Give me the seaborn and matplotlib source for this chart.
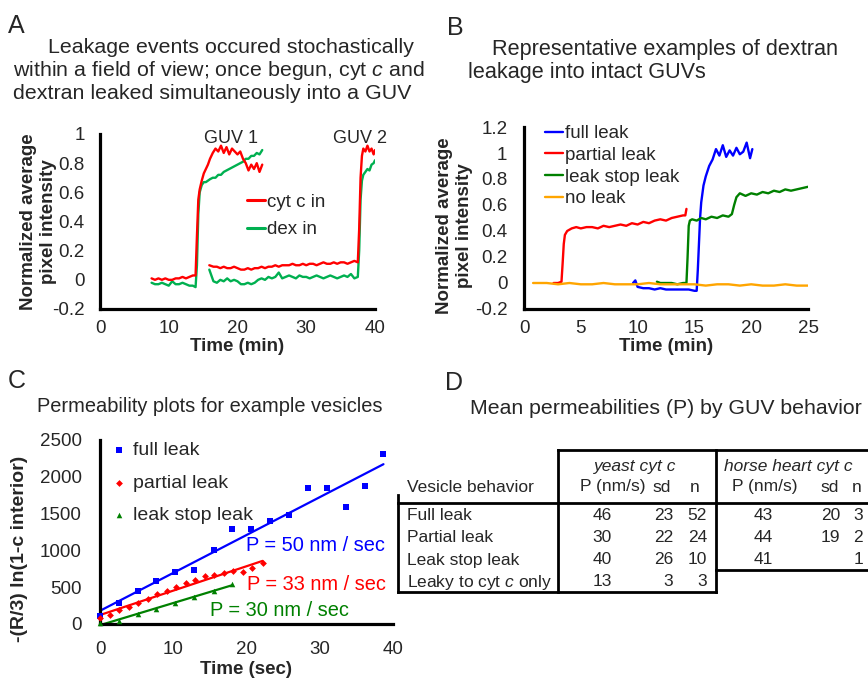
import matplotlib
matplotlib.use("Agg")
import matplotlib.pyplot as plt
import seaborn as sns

sns.set_style("white")
plt.rcParams["font.family"] = ["Liberation Sans", "DejaVu Sans"]
plt.rcParams["mathtext.fontset"] = "custom"
plt.rcParams["mathtext.rm"] = "Liberation Sans"
plt.rcParams["mathtext.it"] = "Liberation Sans:italic"

W, H = 868, 679

# ---------------- panel A: cyt c / dextran traces (min, normalized) ----------
guv1_t = [7.5, 8.0, 8.5, 9.0, 9.5, 10.0, 10.5, 11.0, 11.5, 12.0,
          12.5, 13.0, 13.5, 13.9, 14.1, 14.3, 14.5, 14.8, 15.1, 15.4,
          15.7, 16.0, 16.4, 16.8, 17.2, 17.6, 18.0, 18.4, 18.8, 19.2,
          19.6, 20.0, 20.4, 20.8, 21.2, 21.6, 22.0, 22.4, 22.8, 23.2,
          23.6]
guv1_cyt = [0.01, 0.00, 0.01, 0.00, 0.01, 0.00, 0.00, 0.01, 0.01, 0.02,
            0.01, 0.02, 0.03, 0.03, 0.30, 0.55, 0.62, 0.68, 0.73, 0.76,
            0.79, 0.83, 0.87, 0.90, 0.88, 0.92, 0.87, 0.91, 0.86, 0.90,
            0.88, 0.86, 0.88, 0.83, 0.80, 0.75, 0.79, 0.76, 0.80, 0.74,
            0.79]
guv1_dex = [-0.02, -0.03, -0.03, -0.02, -0.03, -0.04, -0.01, -0.03, -0.03, -0.02,
            -0.03, -0.04, -0.04, -0.05, 0.10, 0.45, 0.60, 0.65, 0.67, 0.67,
            0.68, 0.69, 0.70, 0.70, 0.72, 0.72, 0.74, 0.75, 0.76, 0.77,
            0.78, 0.79, 0.80, 0.81, 0.83, 0.83, 0.85, 0.85, 0.87, 0.86,
            0.89]

guv2_t = [15.9, 16.5, 17.0, 17.5, 18.0, 18.5, 19.0, 19.5, 20.0, 20.5,
          21.0, 21.5, 22.0, 22.5, 23.0, 23.5, 24.0, 24.5, 25.0, 25.5,
          26.0, 26.5, 27.0, 27.5, 28.0, 28.5, 29.0, 29.5, 30.0, 30.5,
          31.0, 31.5, 32.0, 32.5, 33.0, 33.5, 34.0, 34.5, 35.0, 35.5,
          36.0, 36.5, 37.0, 37.5, 37.7, 37.9, 38.1, 38.3, 38.6, 38.9,
          39.2, 39.5, 39.8, 40.0]
guv2_cyt = [0.10, 0.09, 0.09, 0.08, 0.09, 0.08, 0.08, 0.09, 0.08, 0.07,
            0.07, 0.08, 0.07, 0.08, 0.08, 0.09, 0.08, 0.09, 0.09, 0.10,
            0.09, 0.10, 0.10, 0.10, 0.11, 0.10, 0.10, 0.11, 0.10, 0.11,
            0.11, 0.10, 0.11, 0.12, 0.11, 0.11, 0.12, 0.11, 0.12, 0.12,
            0.11, 0.12, 0.13, 0.12, 0.35, 0.70, 0.85, 0.90, 0.88, 0.92,
            0.88, 0.90, 0.86, 0.89]
guv2_dex = [0.07, -0.01, -0.02, 0.00, -0.01, 0.01, -0.01, 0.00, -0.01, -0.03,
            -0.03, -0.02, -0.03, -0.02, 0.00, 0.01, 0.00, 0.02, 0.01, 0.02,
            0.05, 0.01, 0.02, 0.03, 0.02, 0.01, 0.03, 0.02, 0.02, 0.01,
            0.02, 0.03, 0.02, 0.01, 0.02, 0.03, 0.02, 0.01, 0.02, 0.03,
            0.02, 0.04, 0.01, 0.02, 0.20, 0.55, 0.68, 0.72, 0.74, 0.76,
            0.75, 0.79, 0.80, 0.82]

# ---------------- panel B: dextran leakage examples ------------------------
full_t = [9.6, 9.8, 10.0, 10.5, 11.0, 11.5, 12.0, 12.5, 13.0, 13.5,
          14.0, 14.5, 15.0, 15.2, 15.3, 15.4, 15.5, 15.6, 15.8, 16.0,
          16.3, 16.6, 16.9, 17.2, 17.5, 17.8, 18.1, 18.4, 18.7, 19.0,
          19.3, 19.6, 19.9, 20.1]
full_v = [0.00, 0.02, -0.03, -0.04, -0.04, -0.05, -0.04, -0.05, -0.05, -0.05,
          -0.05, -0.05, -0.06, -0.06, 0.10, 0.30, 0.50, 0.62, 0.75, 0.82,
          0.90, 0.95, 1.03, 0.98, 1.06, 0.97, 1.02, 0.98, 1.04, 0.99,
          1.01, 1.08, 0.96, 1.03]
partial_t = [2.6, 3.0, 3.3, 3.4, 3.5, 3.6, 3.8, 4.2, 4.6, 5.0,
             5.5, 6.0, 6.5, 7.0, 7.5, 8.0, 8.5, 9.0, 9.5, 10.0,
             10.5, 11.0, 11.5, 12.0, 12.5, 13.0, 13.5, 14.0, 14.2, 14.3]
partial_v = [0.00, 0.00, 0.01, 0.15, 0.30, 0.37, 0.40, 0.42, 0.43, 0.42,
             0.43, 0.43, 0.42, 0.44, 0.43, 0.44, 0.45, 0.44, 0.46, 0.45,
             0.47, 0.46, 0.48, 0.49, 0.48, 0.50, 0.51, 0.52, 0.52, 0.57]
stop_t = [11.7, 12.0, 12.5, 13.0, 13.5, 14.0, 14.3, 14.4, 14.5, 14.6,
          14.8, 15.2, 15.6, 16.0, 16.5, 17.0, 17.5, 18.0, 18.3, 18.5,
          18.7, 19.0, 19.5, 20.0, 20.5, 21.0, 21.5, 22.0, 22.5, 23.0,
          23.5, 24.0, 24.5, 25.0]
stop_v = [0.01, 0.00, 0.00, 0.00, -0.01, 0.00, 0.00, 0.20, 0.44, 0.48,
          0.49, 0.48, 0.50, 0.49, 0.51, 0.50, 0.52, 0.51, 0.53, 0.60,
          0.66, 0.69, 0.67, 0.69, 0.68, 0.70, 0.69, 0.71, 0.70, 0.72,
          0.71, 0.72, 0.73, 0.74]
none_t = [0.8, 2.0, 3.0, 4.0, 5.0, 6.0, 7.0, 8.0, 9.0, 10.0,
          11.0, 12.0, 13.0, 14.0, 15.0, 16.0, 17.0, 18.0, 19.0, 20.0,
          21.0, 22.0, 23.0, 24.0, 25.0]
none_v = [0.00, 0.00, -0.01, 0.00, -0.01, -0.01, 0.00, -0.01, -0.01, -0.01,
          0.00, -0.01, -0.01, -0.01, -0.01, -0.02, -0.01, -0.01, -0.02, -0.01,
          -0.02, -0.02, -0.01, -0.02, -0.02]

# ---------------- panel C: permeability plots (sec) ------------------------
c_full_t = [0, 2.6, 5.2, 7.7, 10.3, 12.9, 15.5, 18.0, 20.6, 23.2,
            25.8, 28.4, 31.0, 33.6, 36.2, 38.7]
c_full_y = [110, 280, 450, 590, 710, 740, 1000, 1290, 1290, 1400,
            1480, 1850, 1850, 1590, 1870, 2310]
c_part_t = [0, 1.3, 2.6, 3.9, 5.2, 6.5, 7.8, 9.1, 10.4, 11.7,
            13.0, 14.3, 15.6, 16.9, 18.2, 19.5, 20.8, 22.2]
c_part_y = [80, 120, 190, 235, 290, 335, 410, 455, 505, 560,
            600, 650, 665, 690, 725, 700, 755, 825]
c_stop_t = [0, 2.6, 5.2, 7.7, 10.3, 12.9, 15.5, 18.0]
c_stop_y = [10, 45, 140, 205, 285, 370, 450, 540]

# ---------------- panel D: mean permeabilities table -----------------------
behaviors = ["Full leak", "Partial leak", "Leak stop leak", "Leaky to cyt $c$ only"]
yeast_p = [46, 30, 40, 13]
yeast_sd = [23, 22, 26, 3]
yeast_n = [52, 24, 10, 3]
horse_p = [43, 44, 41]
horse_sd = [20, 19, None]
horse_n = [3, 2, 1]

RED, GREEN_A, BLUE, GREEN, ORANGE = "#FF0000", "#00B050", "#0000FF", "#008000", "#FFA500"
TICK = 13.5
LW = 1.7

fig = plt.figure(figsize=(W / 100, H / 100), dpi=100)


def axes_px(x0, x1, y_top, y_bot):
    return fig.add_axes([x0 / W, 1 - y_bot / H, (x1 - x0) / W, (y_bot - y_top) / H])


def style_axis(ax, ypad):
    sns.despine(ax=ax)
    for s in ("left", "bottom"):
        ax.spines[s].set_linewidth(2.3)
        ax.spines[s].set_color("black")
    ax.tick_params(axis="y", length=0, labelsize=TICK, pad=ypad)
    ax.tick_params(axis="x", length=0, labelsize=TICK, pad=8)


# ---- A
axA = axes_px(100, 375, 134, 309)
for t, v, c in [(guv1_t, guv1_dex, GREEN_A), (guv2_t, guv2_dex, GREEN_A),
                (guv1_t, guv1_cyt, RED), (guv2_t, guv2_cyt, RED)]:
    sns.lineplot(x=t, y=v, ax=axA, color=c, lw=LW, estimator=None, sort=False)
axA.set_xlim(0, 40)
axA.set_ylim(-0.2, 1.0)
axA.set_xticks([0, 10, 20, 30, 40])
axA.set_yticks([-0.2, 0, 0.2, 0.4, 0.6, 0.8, 1.0])
axA.set_yticklabels(["-0.2", "0", "0.2", "0.4", "0.6", "0.8", "1"])
style_axis(axA, 11)
axA.set_xlabel("Time (min)", fontsize=13.5, fontweight="bold")
axA.set_ylabel("Normalized average\npixel intensity", fontsize=13.5,
               fontweight="bold", linespacing=1.25)
axA.xaxis.set_label_coords(0.5, -0.165)
axA.yaxis.set_label_coords(-0.155, 0.5)
hA = [plt.Line2D([], [], color=RED, lw=2.2), plt.Line2D([], [], color=GREEN_A, lw=2.2)]
axA.legend(hA, ["cyt c in", "dex in"], loc="upper left", bbox_to_anchor=(0.535, 0.66),
           frameon=False, borderpad=0, borderaxespad=0, handlelength=0.95,
           handletextpad=0.1, labelspacing=0.55, fontsize=13.5)
axA.text(19.05, 0.97, "GUV 1", ha="center", va="center", fontsize=13)
axA.text(37.8, 0.97, "GUV 2", ha="center", va="center", fontsize=13)

# ---- B
axB = axes_px(524, 808, 127, 309)
for t, v, c, lab in [(full_t, full_v, BLUE, "full leak"),
                     (partial_t, partial_v, RED, "partial leak"),
                     (stop_t, stop_v, GREEN, "leak stop leak"),
                     (none_t, none_v, ORANGE, "no leak")]:
    sns.lineplot(x=t, y=v, ax=axB, color=c, lw=LW, estimator=None, sort=False, label=lab)
axB.set_xlim(0, 25)
axB.set_ylim(-0.2, 1.2)
axB.set_xticks([0, 5, 10, 15, 20, 25])
axB.set_yticks([-0.2, 0, 0.2, 0.4, 0.6, 0.8, 1.0, 1.2])
axB.set_yticklabels(["-0.2", "0", "0.2", "0.4", "0.6", "0.8", "1", "1.2"])
style_axis(axB, 12)
axB.set_xlabel("Time (min)", fontsize=13.5, fontweight="bold")
axB.set_ylabel("Normalized average\npixel intensity", fontsize=13.5,
               fontweight="bold", linespacing=1.25)
axB.xaxis.set_label_coords(0.5, -0.158)
axB.yaxis.set_label_coords(-0.18, 0.456)
axB.legend(loc="upper left", bbox_to_anchor=(0.074, 1.01), frameon=False,
           borderpad=0, borderaxespad=0, handlelength=0.95, handletextpad=0.1,
           labelspacing=0.24, fontsize=13.5)

# ---- C
axC = axes_px(100, 393, 440, 624)
series_c = [(c_full_t, c_full_y, BLUE, "s", 20, "full leak"),
            (c_part_t, c_part_y, RED, "D", 12, "partial leak"),
            (c_stop_t, c_stop_y, GREEN, "^", 16, "leak stop leak")]
for t, y, c, m, s, lab in series_c:
    sns.regplot(x=t, y=y, ax=axC, scatter=False, ci=None, truncate=True,
                color=c, line_kws={"lw": 1.6})
    sns.scatterplot(x=t, y=y, ax=axC, color=c, marker=m, s=s, linewidth=0,
                    label=lab, clip_on=False, zorder=3)
axC.set_xlim(0, 40)
axC.set_ylim(0, 2500)
axC.set_xticks([0, 10, 20, 30, 40])
axC.set_yticks([0, 500, 1000, 1500, 2000, 2500])
style_axis(axC, 13)
axC.tick_params(axis="x", pad=12)
axC.set_xlabel("Time (sec)", fontsize=13.5, fontweight="bold")
axC.set_ylabel("-(R/3) ln(1-c interior)", fontsize=14, fontweight="bold")
axC.xaxis.set_label_coords(0.5, -0.2)
axC.yaxis.set_label_coords(-0.245, 0.41)
axC.legend(loc="upper left", bbox_to_anchor=(0.04, 0.99), frameon=False,
           borderpad=0, borderaxespad=0, handlelength=0.8, handletextpad=0.3,
           labelspacing=0.75, fontsize=14)
axC.text(19.9, 1073, "P = 50 nm / sec", color=BLUE, fontsize=14.4, va="center")
axC.text(20.05, 530, "P = 33 nm / sec", color=RED, fontsize=14.4, va="center")
axC.text(15.0, 190, "P = 30 nm / sec", color=GREEN, fontsize=14.4, va="center")

# ---- overlay for letters, titles and table D (pixel coordinates)
ov = fig.add_axes([0, 0, 1, 1])
ov.set_xlim(0, W)
ov.set_ylim(H, 0)
ov.axis("off")

for x, y, s in [(8, 33, "A"), (447, 35, "B"), (8, 388, "C"), (445, 390, "D")]:
    ov.text(x, y, s, fontsize=18, va="baseline")

TT = 15.4
ov.text(48, 53, "Leakage events occured stochastically", fontsize=TT, va="baseline")
ov.text(13, 76, "within a field of view; once begun, cyt $c$ and", fontsize=TT, va="baseline")
ov.text(13, 99, "dextran leaked simultaneously into a GUV", fontsize=TT, va="baseline")
ov.text(492, 55, "Representative examples of dextran", fontsize=15.6, va="baseline")
ov.text(468, 78, "leakage into intact GUVs", fontsize=15.6, va="baseline")
ov.text(37, 412, "Permeability plots for example vesicles", fontsize=14.4, va="baseline")
ov.text(470, 414, "Mean permeabilities (P) by GUV behavior", fontsize=15.3, va="baseline")

# table grid
for xs, ys in [((558, 868), (450, 450)), ((558, 558), (450, 592)),
               ((716, 716), (450, 592)), ((398, 868), (503, 503)),
               ((398, 398), (495, 592)), ((398, 716), (592, 592)),
               ((716, 868), (570, 570))]:
    ov.plot(xs, ys, color="black", lw=2, solid_capstyle="projecting")

TF = 12.5
ov.text(635, 466, "yeast cyt c", fontsize=TF, style="italic", ha="center", va="center")
ov.text(788, 466, "horse heart cyt c", fontsize=TF, style="italic", ha="center", va="center")
ov.text(407, 487, "Vesicle behavior", fontsize=TF, va="center")
for x, s in [(613, "P (nm/s)"), (662, "sd"), (695, "n"),
             (765, "P (nm/s)"), (830, "sd"), (857, "n")]:
    ov.text(x, 487, s, fontsize=TF, ha="center", va="center")

row_y = [516, 538, 560, 582]
for i, y in enumerate(row_y):
    ov.text(407, y, behaviors[i], fontsize=TF, va="center")
    ov.text(602, y, str(yeast_p[i]), fontsize=TF, ha="center", va="center")
    ov.text(673, y, str(yeast_sd[i]), fontsize=TF, ha="right", va="center")
    ov.text(707, y, str(yeast_n[i]), fontsize=TF, ha="right", va="center")
    if i < len(horse_p):
        ov.text(763, y, str(horse_p[i]), fontsize=TF, ha="center", va="center")
        if horse_sd[i] is not None:
            ov.text(840, y, str(horse_sd[i]), fontsize=TF, ha="right", va="center")
        ov.text(863, y, str(horse_n[i]), fontsize=TF, ha="right", va="center")

fig.savefig("out.png", dpi=100)
